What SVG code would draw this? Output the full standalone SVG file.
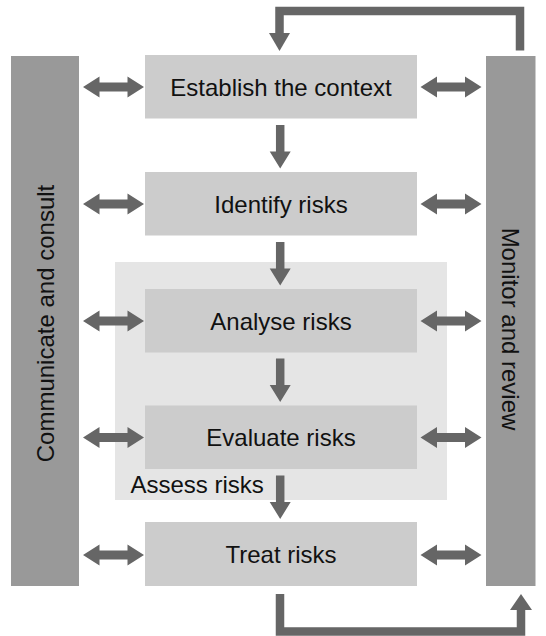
<svg xmlns="http://www.w3.org/2000/svg" width="546" height="636" viewBox="0 0 546 636">
<defs>
<style>
.bar{fill:#999999}
.box{fill:#cccccc}
.region{fill:#e5e5e5}
.arw{fill:#666666}
.ln{fill:none;stroke:#666666;stroke-width:8.5;stroke-linejoin:miter}
.t{font-family:"Liberation Sans",Arial,Helvetica,sans-serif;font-size:24px;fill:#111111}
.c{text-anchor:middle}
</style>
<path id="dbl" class="arw" d="M0,0 L16.5,-10.5 L16.5,-4.5 L44.5,-4.5 L44.5,-10.5 L61,0 L44.5,10.5 L44.5,4.5 L16.5,4.5 L16.5,10.5 Z"/>
<path id="down" class="arw" d="M-4.25,0 L4.25,0 L4.25,26.5 L10.5,26.5 L0,43.5 L-10.5,26.5 L-4.25,26.5 Z"/>
</defs>
<rect width="546" height="636" fill="#ffffff"/>
<g id="assess-risks">
<rect class="region" x="115" y="262" width="332" height="238"/>
<text class="t" x="130.5" y="492.5">Assess risks</text>
</g>
<g id="communicate">
<rect class="bar" x="11" y="56" width="68" height="530"/>
<text class="t c" transform="translate(53.6,323.5) rotate(-90)">Communicate and consult</text>
</g>
<g id="monitor">
<rect class="bar" x="486" y="56" width="49.5" height="530"/>
<text class="t c" transform="translate(502,329) rotate(90)">Monitor and review</text>
</g>
<g id="establish">
<rect class="box" x="145" y="55" width="272" height="63.5"/>
<text class="t c" x="281" y="95.5">Establish the context</text>
</g>
<g id="identify">
<rect class="box" x="145" y="172" width="272" height="63.5"/>
<text class="t c" x="281" y="212.5">Identify risks</text>
</g>
<g id="analyse">
<rect class="box" x="145" y="289" width="272" height="63.5"/>
<text class="t c" x="281" y="329.5">Analyse risks</text>
</g>
<g id="evaluate">
<rect class="box" x="145" y="405.5" width="272" height="63.5"/>
<text class="t c" x="281" y="446">Evaluate risks</text>
</g>
<g id="treat">
<rect class="box" x="145" y="522" width="272" height="64"/>
<text class="t c" x="281" y="563.3">Treat risks</text>
</g>
<g id="connectors">
<use href="#dbl" x="83" y="87"/>
<use href="#dbl" x="420.5" y="87"/>
<use href="#dbl" x="83" y="204"/>
<use href="#dbl" x="420.5" y="204"/>
<use href="#dbl" x="83" y="321"/>
<use href="#dbl" x="420.5" y="321"/>
<use href="#dbl" x="83" y="437.5"/>
<use href="#dbl" x="420.5" y="437.5"/>
<use href="#dbl" x="83" y="555"/>
<use href="#dbl" x="420.5" y="555"/>
<use href="#down" x="280.2" y="125"/>
<use href="#down" x="280.2" y="242"/>
<use href="#down" x="280.2" y="358.5"/>
<use href="#down" x="280.2" y="475.5"/>
<polyline class="ln" points="520,50.5 520,11 279.5,11 279.5,34"/>
<polygon class="arw" points="269,33 290,33 279.5,51"/>
<polyline class="ln" points="280,594 280,631.5 521,631.5 521,609"/>
<polygon class="arw" points="510,610 532,610 521,594"/>
</g>
</svg>
